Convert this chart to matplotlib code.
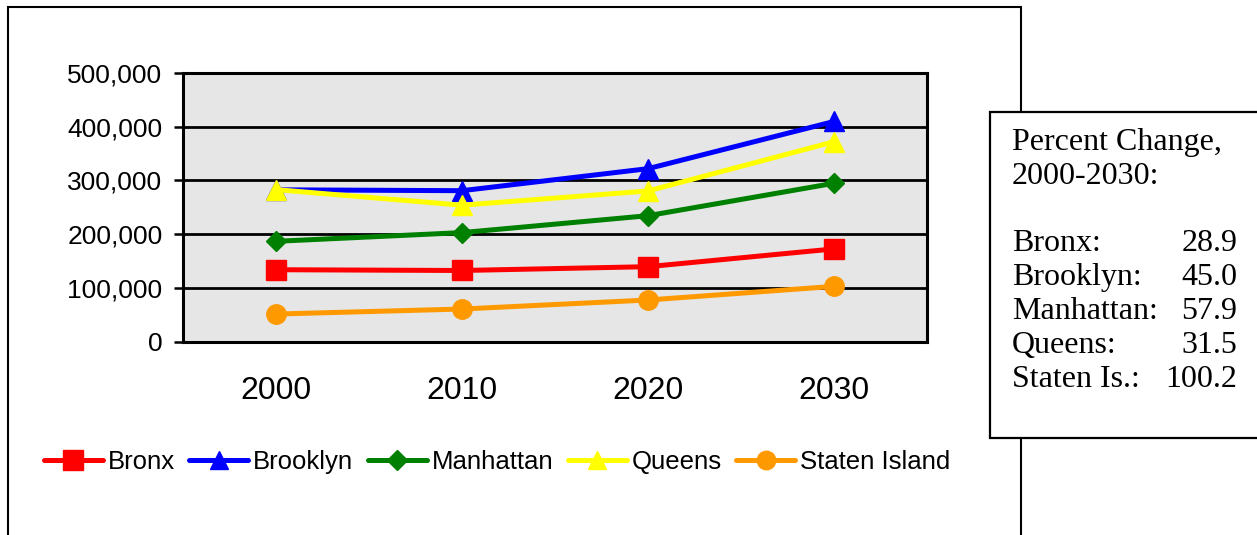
import matplotlib
matplotlib.use("Agg")
import matplotlib.pyplot as plt
from matplotlib.patches import Rectangle
from matplotlib.ticker import FuncFormatter

# data
years = ["2000", "2010", "2020", "2030"]
boroughs = ["Bronx", "Brooklyn", "Manhattan", "Queens", "Staten Island"]
bronx = [133948, 132500, 139600, 172700]
brooklyn = [282658, 281000, 322000, 409900]
manhattan = [186776, 203000, 234500, 294900]
queens = [283042, 254000, 280500, 372200]
staten = [51434, 60800, 77600, 103000]
series = [bronx, brooklyn, manhattan, queens, staten]

box_names = ["Bronx:", "Brooklyn:", "Manhattan:", "Queens:", "Staten Is.:"]
pct_change = [28.9, 45.0, 57.9, 31.5, 100.2]

colors = ["#ff0000", "#0000ff", "#008000", "#ffff00", "#ff9900"]
markers = ["s", "^", "D", "^", "o"]
msizes = [14.5, 14.0, 10.5, 14.0, 14.0]

W, H = 1257, 535
fig = plt.figure(figsize=(W / 100, H / 100), dpi=100)
fig.set_facecolor("white")

ax = fig.add_axes([182.7 / W, 1 - 341.7 / H, (927.3 - 182.7) / W, (341.7 - 73) / H])
ax.set_facecolor("#e6e6e6")

xs = list(range(len(years)))
handles = []
for vals, name, c, m, ms in zip(series, boroughs, colors, markers, msizes):
    h, = ax.plot(xs, vals, color=c, lw=3.6, marker=m, ms=ms,
                 markerfacecolor=c, markeredgecolor=c, label=name,
                 solid_capstyle="round", clip_on=False, zorder=3)
    handles.append(h)

ax.set_xlim(-0.5, 3.5)
ax.set_ylim(0, 500000)
ax.set_yticks([0, 100000, 200000, 300000, 400000, 500000])
ax.yaxis.set_major_formatter(FuncFormatter(lambda v, p: "{:,.0f}".format(v)))
ax.set_xticks(xs)
ax.set_xticklabels(years)

ax.grid(axis="y", color="black", lw=2.0, zorder=1)
ax.set_axisbelow(True)
for s in ax.spines.values():
    s.set_linewidth(2.2)
    s.set_color("black")

ax.tick_params(axis="y", direction="out", length=6.5, width=1.8,
               pad=8, labelsize=19)
ax.tick_params(axis="x", length=0, pad=25, labelsize=23)
for lab in ax.get_xticklabels() + ax.get_yticklabels():
    lab.set_fontfamily("Liberation Sans")

fig.legend(handles=handles, labels=boroughs, loc="center", ncol=5,
           bbox_to_anchor=(497 / W, 1 - 461.7 / H), frameon=False,
           prop={"family": "Liberation Sans", "size": 18.5},
           handlelength=2.3, handletextpad=0.2, columnspacing=0.55,
           borderpad=0, markerscale=0.95)

# outer chart frame (runs off the bottom edge)
fig.patches.append(Rectangle((7.5 / W, -0.1), (1020.5 - 7.5) / W, 1.1 - 7.5 / H,
                             transform=fig.transFigure, fill=False,
                             edgecolor="black", lw=1.5, zorder=0))

# percent change box
fig.patches.append(Rectangle((990 / W, 1 - 437.7 / H), (1262 - 990) / W,
                             (437.7 - 111.7) / H, transform=fig.transFigure,
                             facecolor="white", edgecolor="black", lw=1.6,
                             zorder=5))

line_h = 33.8
serif = "Liberation Serif"
fs = 23
fig.text(1011.7 / W, 1 - 150 / H, "Percent Change,", family=serif, size=fs,
         va="baseline", ha="left", zorder=6)
fig.text(1011.7 / W, 1 - (150 + line_h) / H, "2000-2030:", family=serif,
         size=fs, va="baseline", ha="left", zorder=6)
for i, (nm, pc) in enumerate(zip(box_names, pct_change)):
    yb = 1 - (150 + (i + 3) * line_h) / H
    fig.text(1011.7 / W, yb, nm, family=serif, size=fs, va="baseline",
             ha="left", zorder=6)
    fig.text(1237.3 / W, yb, "{:.1f}".format(pc), family=serif, size=fs,
             va="baseline", ha="right", zorder=6)

fig.savefig("out.png", dpi=100)
